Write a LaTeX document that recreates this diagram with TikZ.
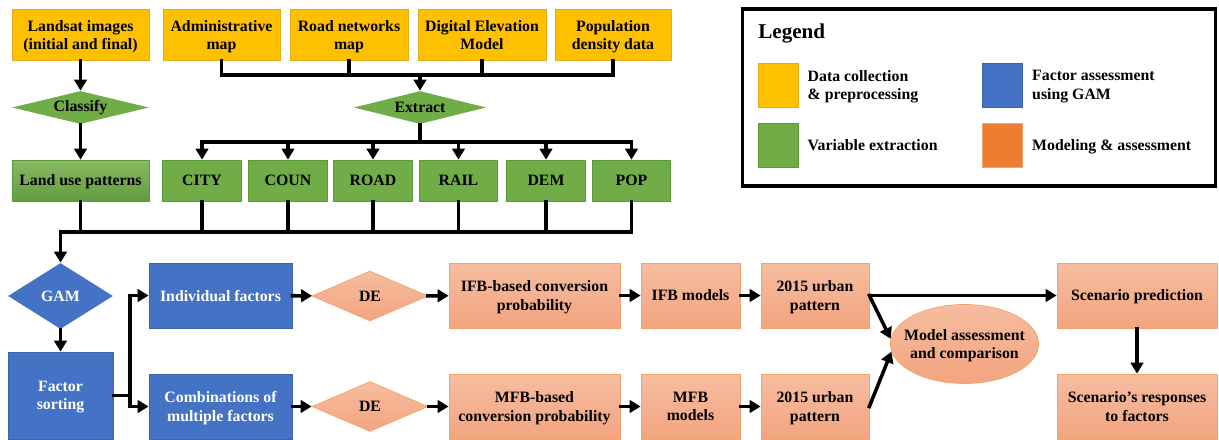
\documentclass[tikz,border=0pt]{standalone}
\usepackage{fontspec}
\setmainfont{Liberation Serif}
\usetikzlibrary{shapes.geometric,arrows.meta,positioning}

\definecolor{datyel}{HTML}{FFC000}
\definecolor{datyelD}{HTML}{E3AC1C}
\definecolor{vargreen}{HTML}{70AD47}
\definecolor{vargreenD}{HTML}{5B9A38}
\definecolor{gamblue}{HTML}{4472C4}
\definecolor{gamblueD}{HTML}{3A64AE}
\definecolor{modorange}{HTML}{ED7D31}
\definecolor{modtop}{HTML}{F6BDA0}
\definecolor{modbot}{HTML}{F3A47F}
\definecolor{modline}{HTML}{F4A36F}

\begin{document}
\begin{tikzpicture}[
  x=0.2mm, y=-0.2mm, % 1 Einheit = 1 Pixel
  font=\fontsize{9}{10.5}\selectfont\bfseries,
  box/.style={rectangle, align=center, inner sep=1pt, text depth=0pt},
  datbox/.style={box, fill=datyel, draw=datyelD, minimum height=10.2mm},
  varbox/.style={box, fill=vargreen, draw=vargreenD, minimum height=8.2mm},
  gambox/.style={box, fill=gamblue, draw=gamblueD, text=white, minimum height=13mm},
  modbox/.style={box, top color=modtop, bottom color=modbot, draw=modline, minimum height=13mm},
  decide/.style={diamond, inner sep=0pt, align=center},
  swatch/.style={rectangle, minimum width=8mm, minimum height=8.8mm},
  legtext/.style={align=left, inner sep=0pt, text depth=0pt, right=1.8mm of #1},
  link/.style={line width=2pt, line cap=rect},
  flow/.style={link, -{Triangle[length=2.2mm,width=2.5mm]}}
  ]
\useasboundingbox (0,0) rectangle (1219,439);

% Daten
\node[datbox, minimum width=27.4mm] (landsat) at (80.5,35) {Landsat images\\(initial and final)};
\node[datbox, minimum width=23.4mm] (admin) at (221.5,35) {Administrative\\map};
\node[datbox, minimum width=23.6mm] (road) at (349,35) {Road networks\\map};
\node[datbox, minimum width=25.6mm] (dem) at (482,35) {Digital Elevation\\Model};
\node[datbox, minimum width=23.2mm] (pop) at (613,35) {Population\\density data};

% Klassifizieren / Extrahieren
\node[decide, fill=vargreen, minimum width=27.4mm, minimum height=6.6mm, shape aspect=4.2] (classify) at (80.5,107.5) {Classify};
\node[decide, fill=vargreen, minimum width=26.4mm, minimum height=6.6mm, shape aspect=4.2] (extract) at (420,107.5) {Extract};

% Variablen
\node[varbox, minimum width=27.4mm, top color=vargreen!85!white, bottom color=vargreen!90!black] (lup) at (80.5,180.5) {Land use patterns};
\node[varbox, minimum width=15.7mm] (city) at (202,180.5) {CITY};
\node[varbox, minimum width=15.7mm] (coun) at (288,180.5) {COUN};
\node[varbox, minimum width=15.7mm] (roadv) at (373,180.5) {ROAD};
\node[varbox, minimum width=15.7mm] (rail) at (458.5,180.5) {RAIL};
\node[varbox, minimum width=15.7mm] (demv) at (546,180.5) {DEM};
\node[varbox, minimum width=15.7mm] (popv) at (631.5,180.5) {POP};

% GAM
\node[decide, fill=gamblue, text=white, minimum width=21mm, minimum height=13.2mm, shape aspect=1.6] (gam) at (60.5,296) {GAM};
\node[gambox, minimum width=21mm, minimum height=17.4mm] (sort) at (60.5,395.5) {Factor\\sorting};
\node[gambox, minimum width=28.6mm] (indiv) at (220.5,295.5) {Individual factors};
\node[gambox, minimum width=28.6mm] (comb) at (220.5,406.5) {Combinations of\\multiple factors};

% Modelle
\node[decide, top color=modtop, bottom color=modbot, draw=modline, minimum width=23.2mm, minimum height=10mm, shape aspect=2.3] (de1) at (370,296) {DE};
\node[decide, top color=modtop, bottom color=modbot, draw=modline, minimum width=23.2mm, minimum height=10mm, shape aspect=2.3] (de2) at (370,406.5) {DE};
\node[modbox, minimum width=34.2mm] (ifbp) at (534.5,295.5) {IFB-based conversion\\probability};
\node[modbox, minimum width=34.2mm] (mfbp) at (534.5,406.5) {MFB-based\\conversion probability};
\node[modbox, minimum width=19.8mm] (ifbm) at (690.5,295.5) {IFB models};
\node[modbox, minimum width=19.8mm] (mfbm) at (690.5,406.5) {MFB\\models};
\node[modbox, minimum width=21.6mm] (urb1) at (815,295.5) {2015 urban\\pattern};
\node[modbox, minimum width=21.6mm] (urb2) at (815,406.5) {2015 urban\\pattern};
\node[ellipse, align=center, inner xsep=-1.6mm, inner ysep=0pt, text depth=0pt, top color=modtop, bottom color=modbot, draw=modline, minimum width=29.4mm, minimum height=15.8mm] (assess) at (964.5,344) {Model assessment\\and comparison};
\node[modbox, minimum width=32mm] (scen) at (1137,295.5) {Scenario prediction};
\node[modbox, minimum width=32mm] (resp) at (1137,406.5) {Scenario’s responses\\to factors};

% Legende
\node[draw, line width=1.8pt, minimum width=94.6mm, minimum height=35.4mm] (legbox) at (979,97.5) {};
\node[anchor=west, inner sep=0pt, font=\fontsize{12}{14}\selectfont\bfseries] (legtitle) at (758,34) {Legend};
\node[swatch, fill=datyel, draw=datyelD] (ysw) at (778,85) {};
\node[swatch, fill=vargreen, draw=vargreenD] (gsw) at (778,145.5) {};
\node[swatch, fill=gamblue, draw=gamblueD] (bsw) at (1002.5,85) {};
\node[swatch, fill=modorange, draw=modline] (osw) at (1002.5,145.5) {};
\node[legtext=ysw] (ytxt) {Data collection\\\& preprocessing};
\node[legtext=gsw] (gtxt) {Variable extraction};
\node[legtext=bsw] (btxt) {Factor assessment\\using GAM};
\node[legtext=osw] (otxt) {Modeling \& assessment};

% Verbindungen oben
\coordinate (jtop) at (420,75);
\draw[link] (admin.south) |- (pop.south |- jtop) -- (pop.south);
\draw[link] (road.south) -- (road.south |- jtop);
\draw[link] (dem.south) -- (dem.south |- jtop);
\draw[flow] (jtop) -- (extract.north);
\draw[flow] (landsat.south) -- (classify.north);
\draw[flow] (classify.south) -- (lup.north);

\coordinate (jmid) at (420,142);
\draw[link] (extract.south) -- (jmid);
\draw[link] (city.north |- jmid) -- (popv.north |- jmid);
\foreach \v in {city,coun,roadv,rail,demv,popv}
  \draw[flow] (\v.north |- jmid) -- (\v.north);

% Verbindungen Mitte
\coordinate (jbot) at (60.5,232);
\foreach \v in {lup,city,coun,roadv,rail,demv,popv}
  \draw[link] (\v.south) -- (\v.south |- jbot);
\draw[link] (jbot) -- (popv.south |- jbot);
\draw[flow] (jbot) -- (gam.north);
\draw[flow] (gam.south) -- (sort.north);

\coordinate (split) at (130,395.5);
\draw[link] (sort.east) -- (split);
\draw[flow] (split) |- (indiv.west);
\draw[flow] (split) |- (comb.west);

% Verbindungen unten
\draw[flow] (indiv) -- (de1);
\draw[flow] (de1) -- (ifbp);
\draw[flow] (ifbp) -- (ifbm);
\draw[flow] (ifbm) -- (urb1);
\draw[flow] (comb) -- (de2);
\draw[flow] (de2) -- (mfbp);
\draw[flow] (mfbp) -- (mfbm);
\draw[flow] (mfbm) -- (urb2);
\draw[flow] (urb1.east) -- (scen.west);
\draw[flow] (urb1.east) -- (assess.176);
\draw[flow] (urb2.east) -- (assess.186);
\draw[flow] (scen) -- (resp);

\end{tikzpicture}
\end{document}
